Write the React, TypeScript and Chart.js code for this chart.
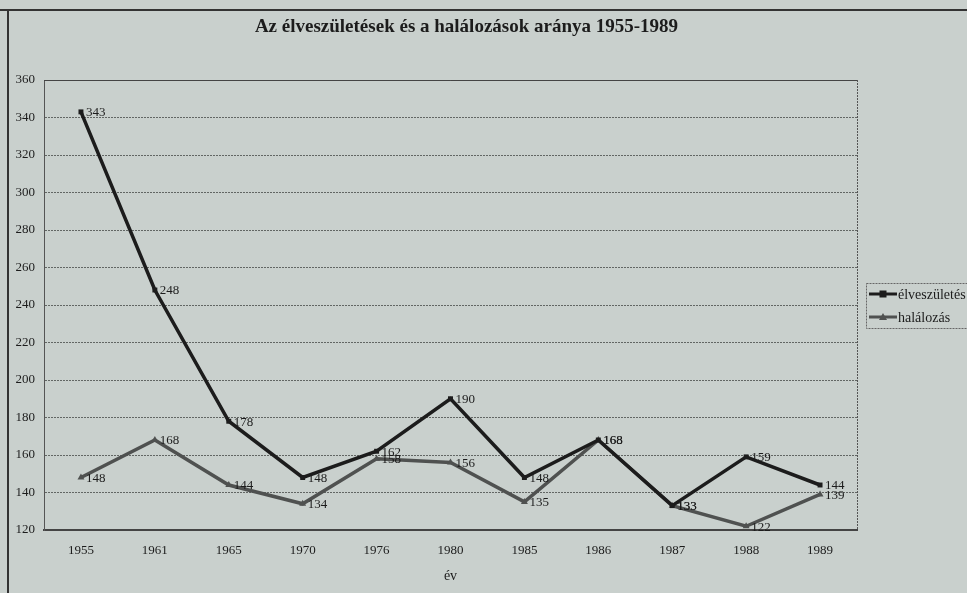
import React, { useEffect, useRef } from "react";
import { Chart, registerables } from "chart.js";

Chart.register(...registerables);

const years = ["1955", "1961", "1965", "1970", "1976", "1980", "1985", "1986", "1987", "1988", "1989"];
const births = [343, 248, 178, 148, 162, 190, 148, 168, 133, 159, 144];
const deaths = [148, 168, 144, 134, 158, 156, 135, 168, 133, 122, 139];
const seriesNames = ["élveszületés", "halálozás"];
const chartTitle = "Az élveszületések és a halálozások aránya 1955-1989";
const xAxisTitle = "év";
const yMin = 120;
const yMax = 360;
const yStep = 20;

const BG = "#c9d0cd";
const INK = "#1c1c1c";
const GRAY_LINE = "#4f5150";
const FONT = "'Liberation Serif', 'DejaVu Serif', serif";

const bgPlugin = {
  id: "bgFrame",
  beforeDraw(chart: any) {
    const { ctx, width, height } = chart;
    ctx.save();
    ctx.fillStyle = BG;
    ctx.fillRect(0, 0, width, height);
    ctx.strokeStyle = "#333";
    ctx.lineWidth = 2;
    ctx.beginPath();
    ctx.moveTo(0, 10);
    ctx.lineTo(width, 10);
    ctx.moveTo(8, 10);
    ctx.lineTo(8, height);
    ctx.stroke();
    ctx.restore();
  },
};

const titlePlugin = {
  id: "customTitle",
  afterDraw(chart: any) {
    const { ctx, chartArea } = chart;
    ctx.save();
    ctx.fillStyle = INK;
    ctx.font = `bold 19px ${FONT}`;
    ctx.textAlign = "center";
    ctx.textBaseline = "middle";
    ctx.fillText(chartTitle, (chartArea.left + chartArea.right) / 2 + 16, 27);
    ctx.restore();
  },
};

const framePlugin = {
  id: "plotFrame",
  afterDraw(chart: any) {
    const { ctx, chartArea } = chart;
    ctx.save();
    ctx.strokeStyle = "#555";
    ctx.lineWidth = 1;
    ctx.setLineDash([2, 1]);
    ctx.beginPath();
    ctx.moveTo(chartArea.right + 0.5, chartArea.top);
    ctx.lineTo(chartArea.right + 0.5, chartArea.bottom);
    ctx.stroke();
    ctx.setLineDash([]);
    ctx.strokeStyle = "#444";
    ctx.beginPath();
    ctx.moveTo(chartArea.left, chartArea.top + 0.5);
    ctx.lineTo(chartArea.right, chartArea.top + 0.5);
    ctx.stroke();
    ctx.restore();
  },
};

const labelPlugin = {
  id: "dataLabels",
  afterDatasetsDraw(chart: any) {
    const { ctx } = chart;
    ctx.save();
    ctx.font = `13px ${FONT}`;
    ctx.fillStyle = INK;
    ctx.textAlign = "left";
    ctx.textBaseline = "middle";
    chart.data.datasets.forEach((ds: any, i: number) => {
      const meta = chart.getDatasetMeta(i);
      meta.data.forEach((pt: any, j: number) => {
        ctx.fillText(String(ds.data[j]), pt.x + 5, pt.y + 1);
      });
    });
    ctx.restore();
  },
};

const legendPlugin = {
  id: "customLegend",
  afterDraw(chart: any) {
    const { ctx, chartArea } = chart;
    const left = chartArea.right + 9;
    const cy = (chartArea.top + chartArea.bottom) / 2;
    const boxTop = cy - 22;
    const boxH = 45;
    ctx.save();
    ctx.fillStyle = BG;
    ctx.fillRect(left, boxTop, 200, boxH);
    ctx.strokeStyle = "#666";
    ctx.lineWidth = 1;
    ctx.setLineDash([2, 1]);
    ctx.strokeRect(left + 0.5, boxTop + 0.5, 200, boxH);
    ctx.setLineDash([]);
    chart.data.datasets.forEach((ds: any, i: number) => {
      const y = boxTop + 11 + i * 23;
      ctx.strokeStyle = ds.borderColor;
      ctx.lineWidth = 3;
      ctx.beginPath();
      ctx.moveTo(left + 3, y);
      ctx.lineTo(left + 31, y);
      ctx.stroke();
      ctx.fillStyle = ds.borderColor;
      const mx = left + 17;
      if (ds.pointStyle === "rect") {
        ctx.fillRect(mx - 3.5, y - 3.5, 7, 7);
      } else {
        ctx.beginPath();
        ctx.moveTo(mx, y - 4);
        ctx.lineTo(mx + 4, y + 3);
        ctx.lineTo(mx - 4, y + 3);
        ctx.closePath();
        ctx.fill();
      }
      ctx.fillStyle = INK;
      ctx.font = `14px ${FONT}`;
      ctx.textAlign = "left";
      ctx.textBaseline = "middle";
      ctx.fillText(ds.label, left + 32, y + 1);
    });
    ctx.restore();
  },
};

export default function App() {
  const ref = useRef<HTMLCanvasElement | null>(null);

  useEffect(() => {
    if (!ref.current) return;
    const chart = new Chart(ref.current, {
      type: "line",
      data: {
        labels: years,
        datasets: [
          {
            label: seriesNames[0],
            data: births,
            borderColor: "#1c1c1c",
            backgroundColor: "#1c1c1c",
            borderWidth: 3.5,
            pointStyle: "rect",
            pointRadius: 3.5,
            pointBorderWidth: 0,
            tension: 0,
          },
          {
            label: seriesNames[1],
            data: deaths,
            borderColor: GRAY_LINE,
            backgroundColor: GRAY_LINE,
            borderWidth: 3.5,
            pointStyle: "triangle",
            pointRadius: 4,
            pointBorderWidth: 0,
            tension: 0,
          },
        ],
      },
      options: {
        responsive: false,
        animation: false,
        layout: { padding: { top: 80, right: 110, left: 0, bottom: 0 } },
        plugins: {
          legend: { display: false },
          title: { display: false },
          tooltip: { enabled: false },
        },
        scales: {
          x: {
            offset: true,
            grid: { display: false, drawTicks: false },
            border: { color: "#444", width: 2 },
            ticks: { color: INK, font: { family: FONT, size: 13 }, padding: 13 },
            title: {
              display: true,
              text: xAxisTitle,
              color: INK,
              font: { family: FONT, size: 14 },
              padding: { top: 0, bottom: 8 },
            },
            afterFit(scale: any) {
              scale.height = 63;
            },
          },
          y: {
            min: yMin,
            max: yMax,
            grid: { color: "#626664", lineWidth: 1, drawTicks: false },
            border: { color: "#555", width: 1, dash: [2, 1] },
            ticks: {
              stepSize: yStep,
              color: INK,
              font: { family: FONT, size: 13 },
              padding: 9,
            },
            afterFit(scale: any) {
              scale.width = 44;
            },
          },
        },
      },
      plugins: [bgPlugin, titlePlugin, framePlugin, labelPlugin, legendPlugin],
    } as any);
    return () => chart.destroy();
  }, []);

  return (
    <div style={{ position: "absolute", left: 0, top: 0, width: 967, height: 593 }}>
      <canvas ref={ref} width={967} height={593} style={{ display: "block" }} />
    </div>
  );
}
